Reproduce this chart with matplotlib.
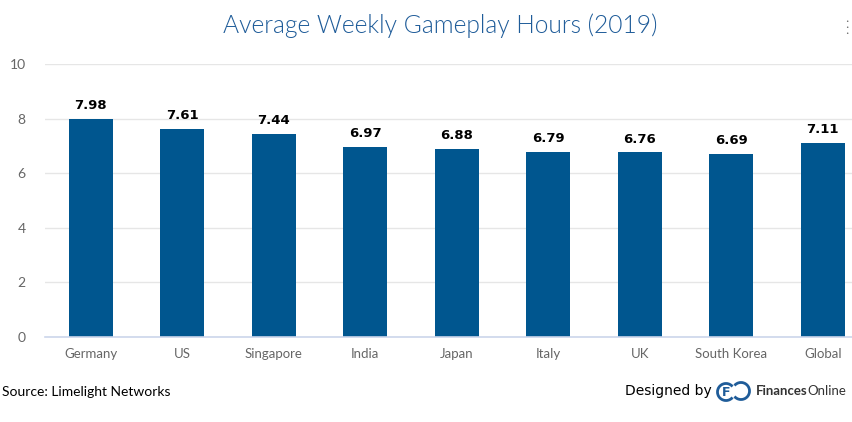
import matplotlib
matplotlib.use("Agg")
import matplotlib.pyplot as plt
from matplotlib.patches import Arc

categories = ["Germany", "US", "Singapore", "India", "Japan", "Italy", "UK", "South Korea", "Global"]
hours = [7.98, 7.61, 7.44, 6.97, 6.88, 6.79, 6.76, 6.69, 7.11]
yticks = [0, 2, 4, 6, 8, 10]

W, H = 852, 422
fig = plt.figure(figsize=(W / 100, H / 100), dpi=100)
plt.rcParams['font.family'] = ['Lato', 'DejaVu Sans']

# axes: left 45px, right 852px, bottom y=337px, top y=64px
ax = fig.add_axes([45 / W, 1 - 337 / H, (852 - 45) / W, (337 - 64) / H])
x = list(range(len(categories)))
ax.bar(x, hours, width=0.48, color="#00568f", zorder=3)
ax.set_xlim(-0.5, (852 - 45) / 91.5 - 0.5)
ax.set_ylim(0, 10)
ax.set_yticks(yticks)
ax.set_yticklabels([str(t) for t in yticks], color="#666666", fontsize=10)
ax.set_xticks(x)
ax.set_xticklabels(categories, color="#666666", fontsize=9.5)
ax.tick_params(axis='both', length=0)
ax.tick_params(axis='y', pad=14)
ax.tick_params(axis='x', pad=8)
ax.grid(axis='y', color="#e6e6e6", linewidth=1, zorder=0)
for s in ["top", "right", "left"]:
    ax.spines[s].set_visible(False)
ax.spines["bottom"].set_color("#ccd6eb")
ax.spines["bottom"].set_linewidth(1.2)
ax.spines["bottom"].set_zorder(4)

for xi, v in zip(x, hours):
    ax.annotate(f"{v:.2f}", (xi, v), xytext=(0, 5), textcoords="offset points",
                ha="center", va="bottom", fontsize=9.5, fontweight="bold", color="#000000",
                family=["DejaVu Sans"])

fig.text(440 / W, 1 - 26 / H, "Average Weekly Gameplay Hours (2019)", ha="center", va="center",
         fontsize=17.7, color="#1f5c99", fontweight=300)

# menu dots
for yy in [22, 28, 34]:
    fig.text(847 / W, 1 - yy / H, "•", ha="center", va="center", fontsize=4, color="#666666",
             family=["DejaVu Sans"])

fig.text(2 / W, 1 - 392 / H, "Source: Limelight Networks", ha="left", va="center",
         fontsize=10, color="#000000")
fig.text(625 / W, 1 - 391 / H, "Designed by", ha="left", va="center",
         fontsize=10, color="#000000", family=["DejaVu Sans"])

# logo
lax = fig.add_axes([716 / W, 1 - 403 / H, 36 / W, 24 / H])
lax.set_xlim(0, 36)
lax.set_ylim(0, 24)
lax.axis("off")
lax.add_patch(Arc((10, 11), 17, 17, theta1=40, theta2=320, color="#1f5c99", lw=2.0))
lax.add_patch(Arc((25, 12), 17, 17, theta1=-140, theta2=140, color="#1f5c99", lw=2.0))
lax.text(10, 11, "F", ha="center", va="center", fontsize=9, fontweight="bold", color="#1f5c99",
         family=["DejaVu Sans"])

t1 = fig.text(756 / W, 1 - 391 / H, "Finances", ha="left", va="center", fontsize=9.5,
              fontweight="bold", color="#333333")
lax.annotate("Online", xy=(1.0, 0.5), xycoords=t1, ha="left", va="center", fontsize=9.5,
             color="#333333", annotation_clip=False)

fig.savefig("out.png", dpi=100, facecolor="white")
